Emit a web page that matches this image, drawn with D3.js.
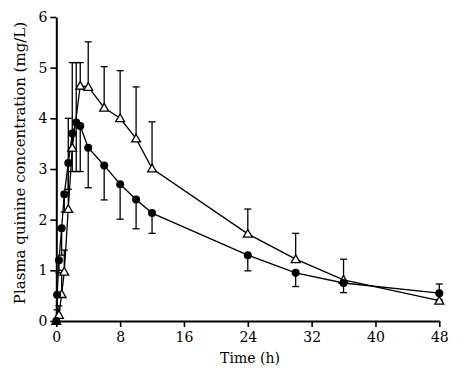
<!DOCTYPE html>
<html><head><meta charset="utf-8">
<script src="https://cdn.jsdelivr.net/npm/d3@7"></script>
<style>body{margin:0;background:#fff}svg{display:block}</style>
</head><body>
<script>
// Filled circles (lower error bars)
const circTime  = [0, 0.1, 0.33, 0.67, 1, 1.5, 2, 2.5, 3, 4, 6, 8, 10, 12, 24, 30, 36, 48];
const circMean  = [0, 0.52, 1.2, 1.83, 2.5, 3.12, 3.7, 3.92, 3.85, 3.42, 3.07, 2.7, 2.4, 2.13, 1.3, 0.95, 0.75, 0.55];
const circLow   = [null, 0.22, 0.95, 1.3, 2.15, 2.6, 2.95, 2.95, 2.95, 2.63, 2.39, 2.01, 1.82, 1.73, 0.99, 0.68, 0.56, 0.42];
const circHigh  = [null, null, null, null, null, null, null, 5.1, null, null, null, null, null, null, null, null, null, null];
// Open triangles (upper error bars)
const triTime   = [0, 0.33, 0.67, 1, 1.5, 2, 3, 4, 6, 8, 10, 12, 24, 30, 36, 48];
const triMean   = [0, 0.12, 0.53, 0.97, 2.21, 3.42, 4.64, 4.62, 4.21, 4.0, 3.6, 3.01, 1.72, 1.22, 0.81, 0.40];
const triHigh   = [null, 0.3, 1.0, 1.4, 4.0, 5.1, 5.1, 5.51, 5.02, 4.94, 4.62, 3.93, 2.21, 1.73, 1.22, 0.73];
const xTicks = [0, 8, 16, 24, 32, 40, 48];
const yTicks = [0, 1, 2, 3, 4, 5, 6];

const W = 460, H = 376;
const svg = d3.select("body").append("svg").attr("width", W).attr("height", H);
const x = d3.scaleLinear().domain([0, 48]).range([56.3, 439.3]);
const y = d3.scaleLinear().domain([0, 6]).range([321, 17]);
const font = "'DejaVu Serif', 'Liberation Serif', serif";

// error bars
function bar(t, a, b) {
  if (b == null) return;
  svg.append("line").attr("x1", x(t)).attr("x2", x(t)).attr("y1", y(a)).attr("y2", y(b))
    .attr("stroke", "#000").attr("stroke-width", 1.3);
  svg.append("line").attr("x1", x(t) - 3.5).attr("x2", x(t) + 3.5).attr("y1", y(b)).attr("y2", y(b))
    .attr("stroke", "#000").attr("stroke-width", 1.3);
}
circTime.forEach((t, i) => { bar(t, circMean[i], circLow[i]); bar(t, circMean[i], circHigh[i]); });
triTime.forEach((t, i) => bar(t, triMean[i], triHigh[i]));

const line = d3.line().x(d => x(d[0])).y(d => y(d[1]));
svg.append("path").attr("d", line(circTime.map((t, i) => [t, circMean[i]])))
  .attr("fill", "none").attr("stroke", "#000").attr("stroke-width", 1.3);
svg.append("path").attr("d", line(triTime.map((t, i) => [t, triMean[i]])))
  .attr("fill", "none").attr("stroke", "#000").attr("stroke-width", 1.3);

// axes
const xAxis = svg.append("g").attr("transform", "translate(0,321)")
  .call(d3.axisBottom(x).tickValues(xTicks).tickFormat(d3.format("d")).tickSize(6).tickPadding(5).tickSizeOuter(0));
const yAxis = svg.append("g").attr("transform", "translate(56.3,0)")
  .call(d3.axisLeft(y).tickValues(yTicks).tickFormat(d3.format("d")).tickSize(6).tickPadding(3).tickSizeOuter(0));
[xAxis, yAxis].forEach(g => {
  g.select(".domain").attr("stroke", "#000").attr("stroke-width", 2);
  g.selectAll(".tick line").attr("stroke", "#000").attr("stroke-width", 1.6);
  g.selectAll(".tick text").attr("fill", "#000").style("font-family", font).style("font-size", "14px");
});

// markers
svg.selectAll(".tri").data(triTime.map((t, i) => [t, triMean[i]])).enter().append("path")
  .attr("d", d3.symbol().type(d3.symbolTriangle).size(34))
  .attr("transform", d => `translate(${x(d[0])},${y(d[1]) + 0.8})`)
  .attr("fill", "#fff").attr("stroke", "#000").attr("stroke-width", 1.3);
svg.selectAll(".circ").data(circTime.map((t, i) => [t, circMean[i]])).enter().append("circle")
  .attr("cx", d => x(d[0])).attr("cy", d => y(d[1])).attr("r", 4).attr("fill", "#000");

// labels
svg.append("text").attr("x", 250).attr("y", 363).attr("text-anchor", "middle")
  .style("font-family", font).style("font-size", "14px").text("Time (h)");
svg.append("text").attr("transform", "translate(25,163) rotate(-90)").attr("text-anchor", "middle")
  .style("font-family", font).style("font-size", "15px").text("Plasma quinine concentration (mg/L)");
</script>
</body></html>
